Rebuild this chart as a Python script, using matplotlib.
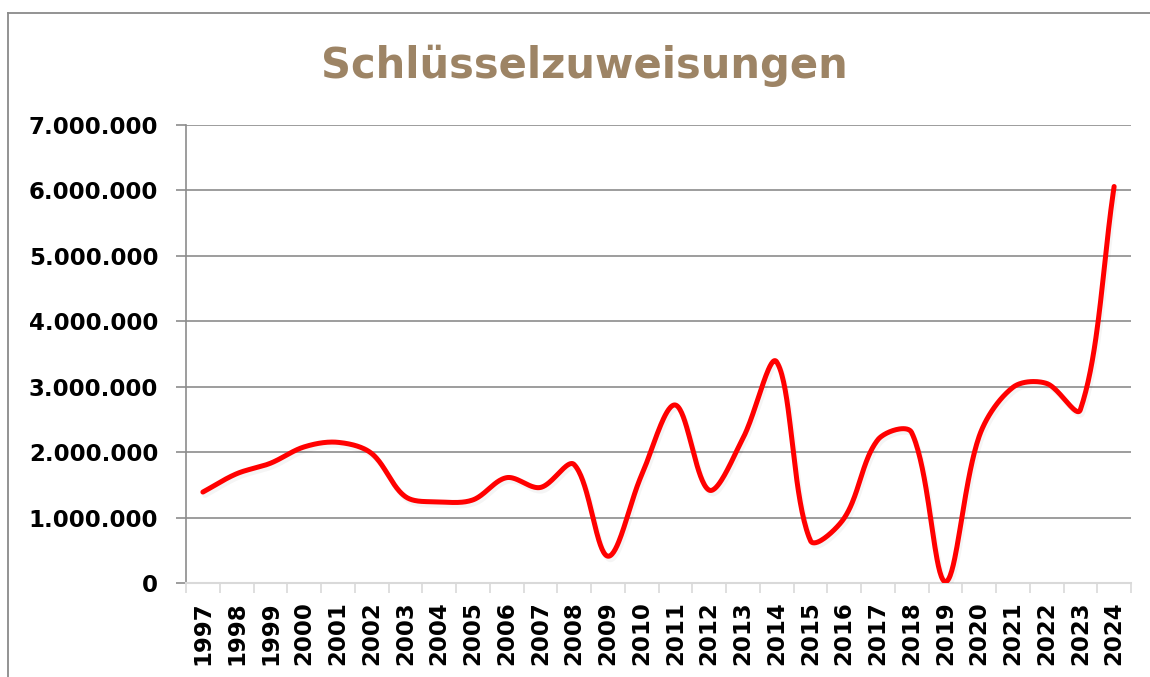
import matplotlib
matplotlib.use("Agg")
import matplotlib.pyplot as plt
import numpy as np
from matplotlib.lines import Line2D
from matplotlib.ticker import FuncFormatter, FixedLocator
import matplotlib.patheffects as pe

years = list(range(1997, 2025))
values = [1390000, 1670000, 1830000, 2080000, 2150000, 1980000, 1320000, 1240000,
          1270000, 1610000, 1460000, 1810000, 410000, 1650000, 2720000, 1420000,
          2210000, 3380000, 650000, 990000, 2190000, 2300000, 20000, 2240000,
          2990000, 3050000, 2650000, 6060000]
yticks = [0, 1000000, 2000000, 3000000, 4000000, 5000000, 6000000, 7000000]
title = "Schlüsselzuweisungen"

# pixel size of one category / one unit, used so the smoothing works in screen space
XPX = 33.75
YPX = 65.4e-6


# smoothed line like excel: bezier segments, tangents weighted by segment length
def smooth(x, y, n=40):
    P = np.column_stack([np.asarray(x, float) * XPX, np.asarray(y, float) * YPX])
    m = len(P)
    cl = np.zeros_like(P)
    cr = np.zeros_like(P)
    for i in range(m):
        a = P[i - 1] if i > 0 else P[i]
        b = P[i + 1] if i < m - 1 else P[i]
        t = b - a
        d0 = np.hypot(*(P[i] - a))
        d1 = np.hypot(*(b - P[i]))
        s = d0 + d1 if d0 + d1 > 0 else 1.0
        cl[i] = P[i] - t * d0 / s / 3
        cr[i] = P[i] + t * d1 / s / 3
    out = []
    tt = np.linspace(0, 1, n)[:, None]
    for i in range(m - 1):
        p1, c1, c2, p2 = P[i], cr[i], cl[i + 1], P[i + 1]
        seg = (1-tt)**3*p1 + 3*(1-tt)**2*tt*c1 + 3*(1-tt)*tt**2*c2 + tt**3*p2
        out.append(seg)
    out = np.vstack(out)
    return out[:, 0] / XPX, out[:, 1] / YPX


fig = plt.figure(figsize=(11.5, 6.77), dpi=100)
ax = fig.add_axes([186/1150, 1-583/677, (1131-186)/1150, (583-125)/677])

pos = np.arange(len(years))
sx, sy = smooth(pos, values)
ax.plot(sx, sy, color="#ff0000", lw=3.6, solid_capstyle="round", zorder=3,
        path_effects=[pe.SimpleLineShadow(offset=(1.5, -2.5), shadow_color="#000000", alpha=0.04),
                      pe.Normal()])

ax.set_xlim(-0.5, len(years) - 0.5)
ax.set_ylim(0, 7000000)

ax.set_yticks(yticks)
ax.yaxis.set_major_formatter(FuncFormatter(lambda v, p: f"{int(v):,}".replace(",", ".")))
ax.grid(axis="y", color="#8c8c8c", lw=1.2)
ax.set_axisbelow(True)

ax.set_xticks(pos)
ax.set_xticklabels([str(y) for y in years], rotation=90)
ax.xaxis.set_minor_locator(FixedLocator(np.arange(-0.5, len(years), 1.0)))
ax.tick_params(axis="x", which="major", length=0, pad=13)
ax.tick_params(axis="x", which="minor", length=7, color="#d9d9d9", width=1.2, direction="out")
ax.tick_params(axis="y", length=7, color="#8c8c8c", width=1.2, pad=13)

for lbl in ax.get_xticklabels() + ax.get_yticklabels():
    lbl.set_fontfamily("DejaVu Sans")
    lbl.set_fontweight("bold")
    lbl.set_fontsize(16.5)
    lbl.set_color("#000000")

for s in ["top", "right"]:
    ax.spines[s].set_visible(False)
ax.spines["left"].set_color("#8c8c8c")
ax.spines["left"].set_linewidth(1.2)
ax.spines["bottom"].set_color("#d9d9d9")
ax.spines["bottom"].set_linewidth(1.5)

fig.text(584/1150, 1-78/677, title, ha="center", va="baseline", fontsize=30,
         fontweight="bold", family="DejaVu Sans", color="#9d8465")

# chart frame
fig.add_artist(Line2D([8/1150, 1.0], [1-13/677, 1-13/677], color="#8a8a8a", lw=1.3))
fig.add_artist(Line2D([8/1150, 8/1150], [0.0, 1-13/677], color="#8a8a8a", lw=1.3))

fig.savefig("out.png", dpi=100)
